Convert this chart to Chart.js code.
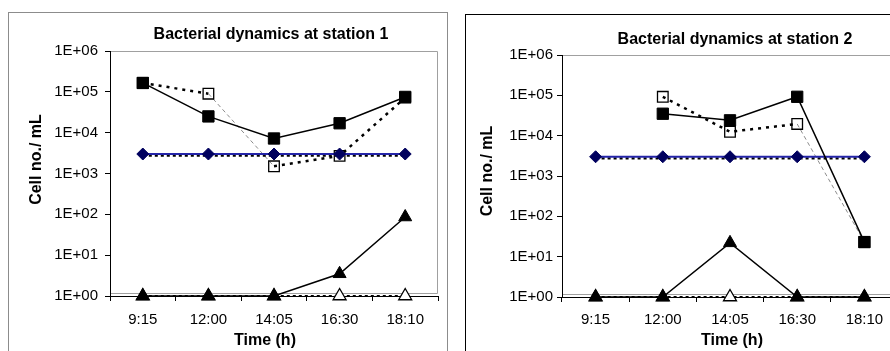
<!DOCTYPE html>
<html>
<head>
<meta charset="utf-8">
<script src="https://cdn.jsdelivr.net/npm/chart.js@4.4.1/dist/chart.umd.min.js"></script>
<style>
html,body{margin:0;padding:0;background:#fff;overflow:hidden;width:890px;height:351px;position:relative;}
.box{position:absolute;box-sizing:border-box;}
#box1{left:8px;top:12px;width:440px;height:400px;border:1px solid #8c8c8c;}
#box2{left:465px;top:14px;width:500px;height:400px;border:1px solid #000;}
canvas{position:absolute;display:block;}
#c1{left:8px;top:12px;}
#c2{left:465px;top:14px;}
</style>
</head>
<body>
<div class="box" id="box1"></div>
<div class="box" id="box2"></div>
<canvas id="c1" width="439" height="339"></canvas>
<canvas id="c2" width="470" height="337"></canvas>
<script>
// ---- data ----
const times = ['9:15', '12:00', '14:05', '16:30', '18:10'];
const yTicks = [1, 10, 100, 1000, 10000, 100000, 1000000];
const yTickLabels = ['1E+00', '1E+01', '1E+02', '1E+03', '1E+04', '1E+05', '1E+06'];
const chartTitles = ['Bacterial dynamics at station 1', 'Bacterial dynamics at station 2'];
const yTitle = 'Cell no./ mL';
const xTitle = 'Time (h)';

// station 1
const s1FilledSquares   = [165000, 25000, 7200, 17000, 75000];
const s1OpenSquares     = [165000, 90000, 1500, 2700, 72000];
const s1Diamonds        = [3000, 3000, 3000, 3000, 3000];
const s1DottedRef       = [2750, 2750, 2750, 2750, 2750];
const s1FilledTriangles = [1, 1, 1, 3.5, 86];
const s1OpenTriangles   = [1, 1, 1, 1, 1];

// station 2
const s2FilledSquares   = [null, 35000, 24000, 92000, 23];
const s2OpenSquares     = [null, 92000, 12500, 19500, 23];
const s2Diamonds        = [3000, 3000, 3000, 3000, 3000];
const s2DottedRef       = [2750, 2750, 2750, 2750, 2750];
const s2FilledTriangles = [1, 1, 22, 1, 1];
const s2OpenTriangles   = [1, 1, 1, 1, 1];

Chart.defaults.font.family = '"Liberation Sans", Arial, sans-serif';
Chart.defaults.color = '#000';

const decor = {
  id: 'decor',
  beforeDatasetsDraw(chart, args, o) {
    const {ctx, chartArea: a} = chart;
    ctx.save();
    ctx.strokeStyle = '#a0a0a0';
    ctx.lineWidth = 1;
    ctx.beginPath();
    ctx.moveTo(a.left + 1, a.top + 0.5);
    ctx.lineTo(a.right - 0.5, a.top + 0.5);
    ctx.lineTo(a.right - 0.5, a.bottom - 2.5);
    ctx.lineTo(a.left + 1, a.bottom - 2.5);
    ctx.stroke();
    ctx.restore();
  },
  afterDraw(chart, args, o) {
    const {ctx, chartArea: a} = chart;
    const cx = (a.left + a.right) / 2, cy = (a.top + a.bottom) / 2;
    ctx.save();
    ctx.fillStyle = '#000';
    ctx.textAlign = 'center';
    ctx.textBaseline = 'middle';
    ctx.font = 'bold 16px "Liberation Sans", Arial, sans-serif';
    ctx.fillText(o.title, cx + o.tdx, a.top + o.tdy);
    ctx.fillText(xTitle, cx + o.xdx, a.bottom + o.xdy);
    ctx.translate(a.left + o.ydx, cy + o.ydy);
    ctx.rotate(-Math.PI / 2);
    ctx.fillText(yTitle, 0, 0);
    ctx.restore();
  }
};

function build(id, d, g) {
  const grayDash = (ctx) => g.graySeg.includes(ctx.p0DataIndex);
  return new Chart(document.getElementById(id), {
    type: 'line',
    data: {
      labels: times,
      datasets: [
        {data: d.filledSquares, borderColor: '#000', borderWidth: 1.5, pointStyle: 'rect', pointRadius: 8,
         pointBackgroundColor: '#000', pointBorderColor: '#000', pointBorderWidth: 1, order: 0, clip: false},
        {data: d.filledTriangles, borderColor: '#000', borderWidth: 1.5, pointStyle: 'triangle', pointRadius: 7.5,
         pointBackgroundColor: '#000', pointBorderColor: '#000', pointBorderWidth: 1, order: 1, clip: false},
        {data: d.diamonds, borderColor: '#2424a8', borderWidth: 2, pointStyle: 'rectRot', pointRadius: 6,
         pointBackgroundColor: '#00005e', pointBorderColor: '#00005e', pointBorderWidth: 1, order: 2, clip: false},
        {data: d.dotted, borderColor: '#000', borderWidth: 2.2, borderDash: [3, 3], pointRadius: 0, order: 3, clip: false},
        {data: d.openSquares, borderColor: '#000', borderWidth: 2.5, borderDash: [3, 5], pointStyle: 'rect', pointRadius: 7.5,
         pointBackgroundColor: 'rgba(255,255,255,0)', pointBorderColor: '#000', pointBorderWidth: 1.3, order: 4, clip: false,
         segment: {
           borderColor: c => grayDash(c) ? '#8c8c8c' : undefined,
           borderDash: c => grayDash(c) ? [4, 3] : undefined,
           borderWidth: c => grayDash(c) ? 1 : undefined
         }},
        {data: d.openTriangles, borderColor: '#000', borderWidth: 2.2, borderDash: [3, 3], pointStyle: 'triangle', pointRadius: 7.5,
         pointBackgroundColor: '#fff', pointBorderColor: '#000', pointBorderWidth: 1.3, order: 5, clip: false}
      ]
    },
    options: {
      responsive: false,
      animation: false,
      events: [],
      layout: {padding: {left: 0, top: g.top, right: g.right, bottom: 0}},
      plugins: {legend: {display: false}, tooltip: {enabled: false}, decor: g.decor},
      scales: {
        x: {
          type: 'category', offset: true,
          grid: {offset: true, drawOnChartArea: false, tickLength: 5, color: '#000'},
          border: {color: '#000', width: 1},
          ticks: {color: '#000', font: {size: 15}, padding: g.xPad, maxRotation: 0, autoSkip: false},
          afterFit: s => { s.height = g.xHeight; }
        },
        y: {
          type: 'logarithmic', min: 1, max: 1000000,
          afterBuildTicks: s => { s.ticks = yTicks.map(v => ({value: v})); },
          afterFit: s => { s.width = g.yWidth; },
          grid: {drawOnChartArea: false, tickLength: 5, color: '#000'},
          border: {color: '#000', width: 1},
          ticks: {color: '#000', font: {size: 15}, padding: g.yPad, autoSkip: false,
                  callback: (v, i) => yTickLabels[yTicks.indexOf(v)] ?? ''}
        }
      }
    },
    plugins: [decor]
  });
}

build('c1',
  {filledSquares: s1FilledSquares, openSquares: s1OpenSquares, diamonds: s1Diamonds, dotted: s1DottedRef,
   filledTriangles: s1FilledTriangles, openTriangles: s1OpenTriangles},
  {top: 39, right: 3, yWidth: 102, xHeight: 55, xPad: 10, yPad: 7, graySeg: [1],
   decor: {title: chartTitles[0], tdx: -3, tdy: -16, xdx: -9, xdy: 45, ydx: -73, ydy: -14}});

build('c2',
  {filledSquares: s2FilledSquares, openSquares: s2OpenSquares, diamonds: s2Diamonds, dotted: s2DottedRef,
   filledTriangles: s2FilledTriangles, openTriangles: s2OpenTriangles},
  {top: 41, right: 37, yWidth: 97, xHeight: 54, xPad: 9, yPad: 4, graySeg: [3],
   decor: {title: chartTitles[1], tdx: 5, tdy: -15, xdx: 2, xdy: 44, ydx: -74, ydy: -5}});
</script>
</body>
</html>
